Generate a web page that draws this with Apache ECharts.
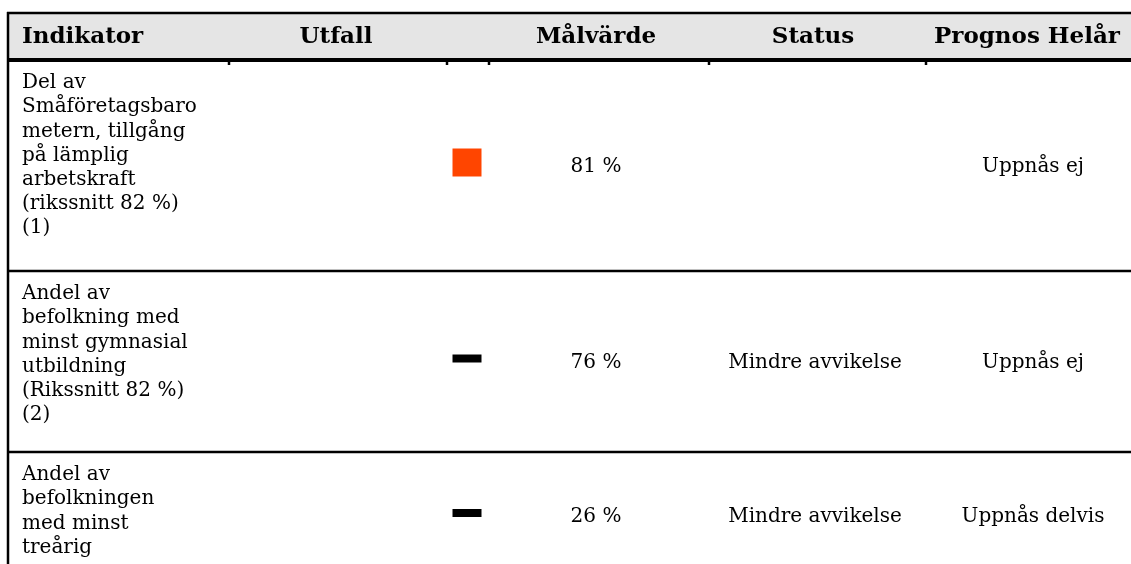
<!DOCTYPE html>
<html>
<head>
<meta charset="utf-8">
<script src="https://cdn.jsdelivr.net/npm/echarts@6/dist/echarts.min.js"></script>
<style>
html,body{margin:0;padding:0;background:#fff;}
#chart{width:1131px;height:564px;}
</style>
</head>
<body>
<div id="chart"></div>
<script>
// ---- data ----
const headers = ['Indikator', 'Utfall', 'Målvärde', 'Status', 'Prognos Helår'];
const indicators = [
  ['Del av', 'Småföretagsbaro', 'metern, tillgång', 'på lämplig', 'arbetskraft', '(rikssnitt 82 %)', '(1)'],
  ['Andel av', 'befolkning med', 'minst gymnasial', 'utbildning', '(Rikssnitt 82 %)', '(2)'],
  ['Andel av', 'befolkningen', 'med minst', 'treårig']
];
const outcomes = ['red', 'neutral', 'neutral'];
const targets = ['81 %', '76 %', '26 %'];
const statuses = ['', 'Mindre avvikelse', 'Mindre avvikelse'];
const forecasts = ['Uppnås ej', 'Uppnås ej', 'Uppnås delvis'];

// ---- layout ----
const W = 1131, H = 564;
const FONT = '"DejaVu Serif", "Liberation Serif", serif';
const BODY = '20px ' + FONT;
const HEAD = 'bold 23px ' + FONT;
const tableLeft = 8, tableTop = 13, headerBottom = 60;
const rowBottoms = [271, 452, 580];
const headerCenters = [null, 336, 596, 813, 1027];
const textLeft = 22;
const markerX = 467, targetX = 596, statusX = 815, forecastX = 1033;
const colMarks = [229, 447, 489, 709, 926];
const lineH = 24.2, padTop = 23;

function rowTop(i) { return i === 0 ? headerBottom : rowBottoms[i - 1]; }
function rowCenter(i) { return (rowTop(i) + rowBottoms[i]) / 2; }

const chart = echarts.init(document.getElementById('chart'), null, {renderer: 'canvas'});

function renderTable(params, api) {
  const P = (x, y) => api.coord([x, y]);
  const els = [];
  const tl = P(tableLeft, tableTop), hb = P(W, headerBottom);
  els.push({type: 'rect', shape: {x: tl[0], y: tl[1], width: hb[0] - tl[0], height: hb[1] - tl[1]},
    style: {fill: '#e5e5e5'}});
  let a = P(tableLeft - 1, tableTop), b = P(W, tableTop);
  els.push({type: 'line', shape: {x1: a[0], y1: a[1], x2: b[0], y2: b[1]}, style: {stroke: '#000', lineWidth: 2.5}});
  a = P(tableLeft - 1, headerBottom); b = P(W, headerBottom);
  els.push({type: 'line', shape: {x1: a[0], y1: a[1], x2: b[0], y2: b[1]}, style: {stroke: '#000', lineWidth: 4}});
  colMarks.forEach(x => {
    const p1 = P(x, headerBottom), p2 = P(x, headerBottom + 5);
    els.push({type: 'line', shape: {x1: p1[0], y1: p1[1], x2: p2[0], y2: p2[1]}, style: {stroke: '#000', lineWidth: 2.5}});
  });
  a = P(tableLeft, tableTop - 1); b = P(tableLeft, H);
  els.push({type: 'line', shape: {x1: a[0], y1: a[1], x2: b[0], y2: b[1]}, style: {stroke: '#000', lineWidth: 2.5}});
  rowBottoms.forEach(y => {
    const p1 = P(tableLeft - 1, y), p2 = P(W, y);
    els.push({type: 'line', shape: {x1: p1[0], y1: p1[1], x2: p2[0], y2: p2[1]}, style: {stroke: '#000', lineWidth: 2.5}});
  });
  headers.forEach((h, i) => {
    const x = i === 0 ? textLeft : headerCenters[i];
    const p = P(x, (tableTop + headerBottom) / 2 + 1);
    els.push({type: 'text', style: {text: h, x: p[0], y: p[1], font: HEAD, fill: '#000',
      align: i === 0 ? 'left' : 'center', verticalAlign: 'middle'}});
  });
  indicators.forEach((lines, r) => {
    const p = P(textLeft, rowTop(r) + padTop - lineH / 2);
    els.push({type: 'text', style: {text: lines.join('\n'), x: p[0], y: p[1], font: BODY, fill: '#000',
      align: 'left', verticalAlign: 'top', lineHeight: lineH}});
    const cy = rowCenter(r) + 1;
    [[targetX, targets[r]], [statusX, statuses[r]], [forecastX, forecasts[r]]].forEach(([x, t]) => {
      if (!t) return;
      const q = P(x, cy);
      els.push({type: 'text', style: {text: t, x: q[0], y: q[1], font: BODY, fill: '#000',
        align: 'center', verticalAlign: 'middle'}});
    });
  });
  return {type: 'group', children: els};
}

const markerData = outcomes.map((o, r) => ({
  value: [markerX, rowCenter(r) - 3],
  symbolSize: o === 'red' ? [29, 28] : [29, 8],
  itemStyle: {color: o === 'red' ? '#ff4500' : '#000', opacity: 1}
}));

chart.setOption({
  animation: false,
  grid: {left: 0, right: 0, top: 0, bottom: 0},
  xAxis: {type: 'value', min: 0, max: W, show: false},
  yAxis: {type: 'value', min: 0, max: H, inverse: true, show: false},
  series: [
    {type: 'custom', data: [[0, 0]], renderItem: renderTable, silent: true, z: 1, clip: false},
    {type: 'scatter', symbol: 'rect', data: markerData, z: 3, silent: true, itemStyle: {opacity: 1}}
  ]
});
</script>
</body>
</html>
